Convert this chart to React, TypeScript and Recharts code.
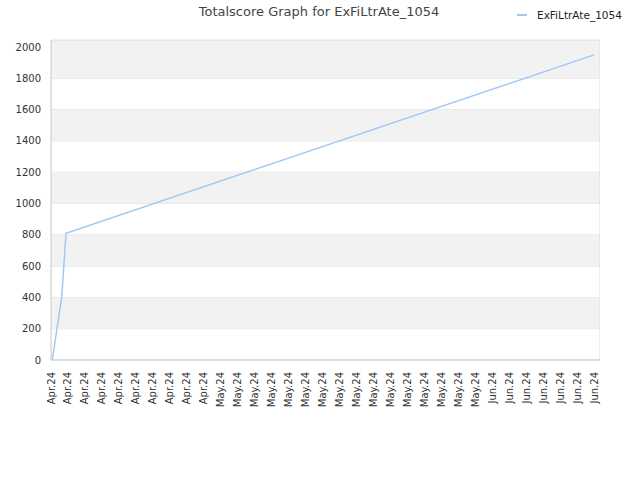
import React from 'react';
import { LineChart, Line, XAxis, YAxis, CartesianGrid, ReferenceArea } from 'recharts';

const chartTitle = 'Totalscore Graph for ExFiLtrAte_1054';
const seriesName = 'ExFiLtrAte_1054';

// x is measured in tick steps of 2 (one tick label every 2 units)
const pointX = [0.15, 1.26, 1.77, 64];
const totalScore = [0, 400, 810, 1950];

const tickLabels = [
  'Apr.24', 'Apr.24', 'Apr.24', 'Apr.24', 'Apr.24', 'Apr.24', 'Apr.24', 'Apr.24', 'Apr.24', 'Apr.24',
  'May.24', 'May.24', 'May.24', 'May.24', 'May.24', 'May.24', 'May.24', 'May.24',
  'May.24', 'May.24', 'May.24', 'May.24', 'May.24', 'May.24', 'May.24', 'May.24',
  'Jun.24', 'Jun.24', 'Jun.24', 'Jun.24', 'Jun.24', 'Jun.24', 'Jun.24',
];

const yTicks = [0, 200, 400, 600, 800, 1000, 1200, 1400, 1600, 1800, 2000];
const yMax = 2045;
const xMax = 64.7;

const data = pointX.map((x, i) => ({ x, score: totalScore[i] }));
const xTicks = tickLabels.map((_, i) => i * 2);

// grey bands on every other tick interval
const bands = yTicks
  .filter((_, i) => i % 2 === 1)
  .map((t, i, arr) => [t, i === arr.length - 1 ? yMax : t + 200]);

const FONT = '"DejaVu Sans", sans-serif';
const LINE_COLOR = '#9ec9f4';

const XTick = (props: any) => {
  const { x, y, payload } = props;
  return (
    <text
      x={0}
      y={0}
      dy="0.35em"
      textAnchor="end"
      fontSize={10}
      fontFamily={FONT}
      fill="#333"
      transform={`translate(${x},${y}) rotate(-90)`}
    >
      {tickLabels[Math.round(payload.value / 2)]}
    </text>
  );
};

const App: React.FC = () => {
  return (
    <div style={{ position: 'absolute', left: 0, top: 0, width: 640, height: 480, background: '#fff', fontFamily: FONT }}>
      <div style={{ position: 'absolute', top: 4, left: 0, width: 638, textAlign: 'center', fontSize: 13, color: '#444' }}>
        {chartTitle}
      </div>
      <div style={{ position: 'absolute', top: 9, left: 517, display: 'flex', alignItems: 'center', fontSize: 10.5, color: '#222' }}>
        <span style={{ display: 'inline-block', width: 10, height: 2, background: LINE_COLOR, marginRight: 10 }} />
        {seriesName}
      </div>
      <LineChart width={640} height={480} data={data} margin={{ top: 40, right: 40, bottom: 0, left: 10 }}>
        {bands.map(([y1, y2]) => (
          <ReferenceArea key={y1} y1={y1} y2={y2} fill="#f2f2f2" fillOpacity={1} stroke="none" ifOverflow="hidden" />
        ))}
        <CartesianGrid vertical={false} stroke="#e2e2e2" />
        <ReferenceArea x1={0} x2={xMax} y1={0} y2={yMax} fill="none" stroke="#dcdcdc" ifOverflow="hidden" />
        <XAxis
          dataKey="x"
          type="number"
          domain={[0, xMax]}
          ticks={xTicks}
          interval={0}
          height={120}
          tickLine={false}
          tickSize={6}
          tickMargin={6}
          axisLine={{ stroke: '#cfcfcf' }}
          tick={<XTick />}
        />
        <YAxis
          domain={[0, yMax]}
          ticks={yTicks}
          interval={0}
          width={41}
          tickLine={false}
          tickSize={10}
          tickMargin={0}
          axisLine={{ stroke: '#cfcfcf' }}
          tick={{ fontSize: 10, fill: '#333', fontFamily: FONT }}
        />
        <Line
          type="linear"
          dataKey="score"
          name={seriesName}
          stroke={LINE_COLOR}
          strokeWidth={1.5}
          dot={false}
          isAnimationActive={false}
        />
      </LineChart>
    </div>
  );
};

export default App;
